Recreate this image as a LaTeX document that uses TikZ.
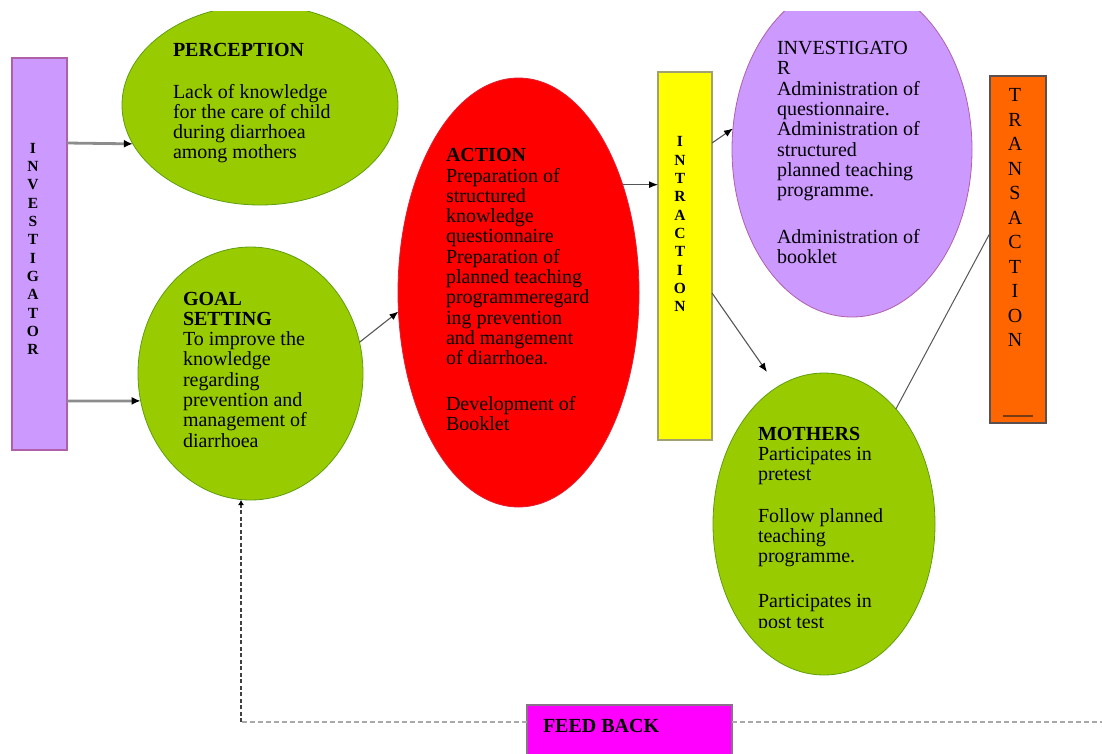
\documentclass[tikz,border=0pt]{standalone}
\usepackage{fontspec}
\setmainfont{Liberation Serif}
\usetikzlibrary{shapes.geometric,arrows.meta,calc}

\definecolor{lgreen}{HTML}{99CC00}
\definecolor{lgreenb}{HTML}{5E9E10}
\definecolor{lav}{HTML}{CC99FF}
\definecolor{lavb}{HTML}{B060A8}
\definecolor{yel}{HTML}{FFFF00}
\definecolor{yelb}{HTML}{A0A070}
\definecolor{org}{HTML}{FF6600}
\definecolor{orgb}{HTML}{5A5050}
\definecolor{mag}{HTML}{FF00FF}
\definecolor{magb}{HTML}{8A708A}
\definecolor{redb}{HTML}{E02030}
\definecolor{lineg}{HTML}{555555}
\definecolor{thickg}{HTML}{8C8C8C}
\definecolor{dashg}{HTML}{A8A8A8}
\definecolor{ulbrown}{HTML}{7A3A10}

\newcommand{\bodytext}[1]{\parbox[t]{250pt}{\raggedright\fontsize{20}{20.3}\selectfont #1}}
\newcommand{\vstack}[3]{\parbox[t]{24pt}{\centering\fontsize{#1}{#2}\selectfont #3}}

\begin{document}
\begin{tikzpicture}[x=1pt,y=-1pt,
  ell/.style={ellipse, inner sep=0pt, outer sep=0pt, line width=0.8pt},
  boxnode/.style={rectangle, inner sep=0pt, outer sep=0pt, line width=1.5pt},
  lbl/.style={anchor=base west, inner sep=0pt, outer sep=0pt},
  vlbl/.style={anchor=base, inner sep=0pt, outer sep=0pt},
  thickarr/.style={draw=thickg, line width=2.8pt, -{Latex[length=9pt,width=8pt,color=black]}},
  thinarr/.style={draw=lineg, line width=1.1pt, -{Latex[length=9pt,width=7pt,color=black]}},
  plainline/.style={draw=lineg, line width=1pt},
  fbdash/.style={draw=dashg, line width=2pt, dash pattern=on 5pt off 3pt},
  fbvert/.style={draw=black!75, line width=1.6pt, dash pattern=on 4pt off 2.5pt, -{Latex[length=5pt,width=6pt,color=black]}}
]
\useasboundingbox (0,0) rectangle (1102,753);
\begin{scope}
\clip (0,11) rectangle (1102,753);

% shapes
\node[boxnode, fill=lav, draw=lavb, minimum width=55pt, minimum height=392pt] (inv) at (39.5,254) {};
\node[ell, fill=lgreen, draw=lgreenb, minimum width=276pt, minimum height=200pt] (perc) at (260,105) {};
\node[ell, fill=lgreen, draw=lgreenb, minimum width=225pt, minimum height=253pt] (goal) at (250.5,373.5) {};
\node[ell, fill=red, draw=redb, minimum width=241pt, minimum height=429pt] (act) at (518.5,292.5) {};
\node[boxnode, fill=yel, draw=yelb, minimum width=54pt, minimum height=368pt] (intr) at (685,256) {};
\node[ell, fill=lav, draw=lavb, minimum width=240pt, minimum height=335pt] (lav) at (852,149.5) {};
\node[ell, fill=lgreen, draw=lgreenb, minimum width=222pt, minimum height=302pt] (moth) at (824,524) {};
\node[boxnode, fill=org, draw=orgb, minimum width=56pt, minimum height=347pt] (trans) at (1018,249.5) {};
\node[boxnode, fill=mag, draw=magb, minimum width=205pt, minimum height=60pt] (fb) at (629.5,735) {};

% texts
\node[vlbl] (tinv) at (33,153) {\vstack{15.5}{18.35}{\bfseries I\\N\\V\\E\\S\\T\\I\\G\\A\\T\\O\\R}};
\node[vlbl] (tintr) at (680,146.7) {\vstack{15.5}{18.33}{\bfseries I\\N\\T\\R\\A\\C\\T\\I\\O\\N}};
\node[vlbl] (ttrans) at (1015,101.7) {\vstack{20}{24.5}{T\\R\\A\\N\\S\\A\\C\\T\\I\\O\\N}};
\node[fill=ulbrown, inner sep=0pt, minimum width=30pt, minimum height=2pt] (ul) at (1018,416) {};

\node[lbl] (tperc) at (173,56) {\bodytext{\textbf{PERCEPTION}\\[21.7pt]Lack of knowledge\\for the care of child\\during diarrhoea\\among mothers}};
\node[lbl] (tgoal) at (183,305) {\bodytext{\textbf{GOAL}\\\textbf{SETTING}\\To improve the\\knowledge\\regarding\\prevention and\\management of\\diarrhoea}};
\node[lbl] (tact) at (446,161.7) {\bodytext{\textbf{ACTION}\\Preparation of\\structured\\knowledge\\questionnaire\\Preparation of\\planned teaching\\programmeregard\\ing prevention\\and mangement\\of diarrhoea.\\[25pt]Development of\\Booklet}};
\node[lbl] (tlav) at (777,54.5) {\bodytext{INVESTIGATO\\R\\Administration of\\questionnaire.\\Administration of\\structured\\planned teaching\\programme.\\[26.3pt]Administration of\\booklet}};
\begin{scope}
\clip (700,380) rectangle (950,627.5);
\node[lbl] (tmoth) at (758,440) {\bodytext{\textbf{MOTHERS}\\Participates in\\pretest\\[21.4pt]Follow planned\\teaching\\programme.\\[24.6pt]Participates in\\post test}};
\end{scope}
\node[lbl] (tfb) at (543,732) {\bodytext{\textbf{FEED BACK}}};

% connectors
\draw[thickarr] (inv.east |- 0,143) -- (perc.197);
\draw[thickarr] (inv.east |- 0,401) -- (goal.194);
\draw[thinarr] (goal.16) -- (act.189);
\draw[thinarr] (act.46.6) -- (act.46.6 -| intr.west);
\draw[thinarr] (intr.east |- 0,143) -- (lav.170);
\coordinate (mtip) at (767,372);
\draw[thinarr] (intr.east |- 0,293) -- (mtip);
\draw[plainline] (moth.58) -- (trans.west |- 0,233);
\coordinate (fbcorner) at (241,722);
\coordinate (fbend) at (1102,722);
\draw[fbdash] (fb.east |- fbcorner) -- (fbend);
\draw[fbdash] (fb.west |- fbcorner) -- (fbcorner);
\draw[fbvert] (fbcorner) -- (fbcorner |- goal.south);
\end{scope}
\end{tikzpicture}
\end{document}
